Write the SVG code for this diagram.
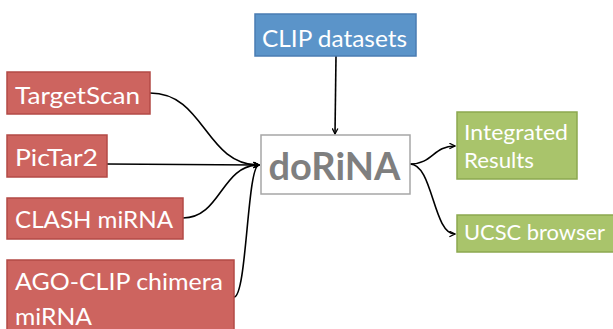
<svg xmlns="http://www.w3.org/2000/svg" width="613" height="329" viewBox="0 0 613 329">
<defs>
<style>
.red{fill:#cd645f;stroke:#b34a46;stroke-width:1.5}
.blue{fill:#5b94c9;stroke:#4a7cb2;stroke-width:1.5}
.green{fill:#a9c46b;stroke:#8ca84f;stroke-width:1.5}
.main{fill:#ffffff;stroke:#a6a6a6;stroke-width:1.5}
.t{font-family:Lato,"Open Sans",sans-serif;font-size:23px;fill:#ffffff}
.tg{font-family:Lato,"Open Sans",sans-serif;font-size:21px;fill:#ffffff}
.big{font-family:Lato,"Open Sans",sans-serif;font-size:38px;font-weight:bold;fill:#7f7f7f}
.c{fill:none;stroke:#000000;stroke-width:1.6;marker-end:url(#a)}
</style>
<marker id="a" viewBox="0 0 10 10" refX="9" refY="5" markerWidth="7" markerHeight="7" markerUnits="userSpaceOnUse" orient="auto">
<path d="M1,1 L9,5 L1,9" fill="none" stroke="#000" stroke-width="1.8"/>
</marker>
</defs>
<rect width="613" height="329" fill="#ffffff"/>
<g id="connectors">
<path class="c" d="M336,56 L335,134"/>
<path class="c" d="M150,93 C205,93 205,165 259,165"/>
<path class="c" d="M107,164 L259,165"/>
<path class="c" d="M183,218 C221,218 221,165 259,165"/>
<path class="c" d="M234,297 C247,297 247,165 259,165"/>
<path class="c" d="M410,164 C433,164 433,146 455,146"/>
<path class="c" d="M410,164 C433,164 433,234 455,234"/>
</g>
<g id="clip">
<rect class="blue" x="255" y="14" width="161" height="42"/>
<text class="t" x="262" y="47" textLength="145" lengthAdjust="spacingAndGlyphs">CLIP datasets</text>
</g>
<g id="dorina">
<rect class="main" x="261" y="135" width="149" height="59"/>
<text class="big" x="268.5" y="180" textLength="132" lengthAdjust="spacingAndGlyphs">doRiNA</text>
</g>
<g id="targetscan">
<rect class="red" x="7" y="72" width="143" height="42"/>
<text class="t" x="15" y="104" textLength="125" lengthAdjust="spacingAndGlyphs">TargetScan</text>
</g>
<g id="pictar2">
<rect class="red" x="7" y="135" width="100" height="42"/>
<text class="t" x="15" y="166" textLength="83" lengthAdjust="spacingAndGlyphs">PicTar2</text>
</g>
<g id="clash">
<rect class="red" x="7" y="198" width="176" height="41"/>
<text class="t" x="15" y="228" textLength="158" lengthAdjust="spacingAndGlyphs">CLASH miRNA</text>
</g>
<g id="agoclip">
<rect class="red" x="7" y="260" width="227" height="75"/>
<text class="t" x="15" y="290" textLength="208" lengthAdjust="spacingAndGlyphs">AGO-CLIP chimera</text>
<text class="t" x="15" y="325" textLength="77" lengthAdjust="spacingAndGlyphs">miRNA</text>
</g>
<g id="integrated">
<rect class="green" x="457" y="112" width="120" height="67"/>
<text class="tg" x="464" y="140" textLength="104" lengthAdjust="spacingAndGlyphs">Integrated</text>
<text class="tg" x="464" y="168" textLength="70" lengthAdjust="spacingAndGlyphs">Results</text>
</g>
<g id="ucsc">
<rect class="green" x="457" y="215" width="160" height="37"/>
<text class="tg" x="464" y="240" textLength="141" lengthAdjust="spacingAndGlyphs">UCSC browser</text>
</g>
</svg>
